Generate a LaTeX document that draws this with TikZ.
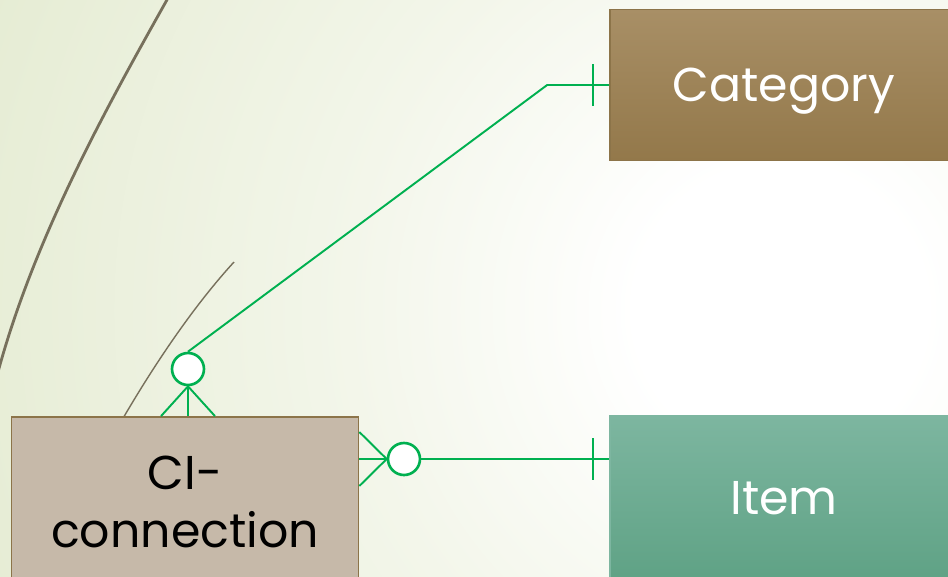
\documentclass[tikz,border=0pt]{standalone}
\usepackage{fontspec}
\setmainfont{Poppins}
\usetikzlibrary{positioning, calc}

\definecolor{bgGreen}{HTML}{E4EBD1}
\definecolor{bgMid}{HTML}{F3F6EA}
\definecolor{linkGreen}{HTML}{00B050}
\definecolor{swoosh}{HTML}{77705C}
\definecolor{catTop}{HTML}{A88F66}
\definecolor{catBot}{HTML}{93784A}
\definecolor{itemTop}{HTML}{7DB6A0}
\definecolor{itemBot}{HTML}{5FA285}
\definecolor{ciFill}{HTML}{C6B9A9}
\definecolor{boxLine}{HTML}{8C7449}

\pgfdeclareradialshading{bgglow}{\pgfpoint{0bp}{0bp}}{color(0bp)=(white); color(4bp)=(white);
  color(12bp)=(bgMid); color(25bp)=(bgGreen); color(50bp)=(bgGreen)}

\begin{document}
\begin{tikzpicture}[x=0.02cm, y=-0.02cm,
    entity/.style = {rectangle, draw = boxLine, line width = 1pt, align = center,
                     font = \fontsize{27}{33}\selectfont, inner sep = 0pt},
    link/.style = {draw = linkGreen, line width = 1.1pt},
    ring/.style = {circle, draw = linkGreen, fill = white, line width = 1.5pt,
                   minimum size = 0.64cm, inner sep = 0pt}]

\useasboundingbox (0,0) rectangle (948,576);
\clip (0,0) rectangle (948,576);

% background
\fill[bgGreen] (0,0) rectangle (948,576);
\shade[shading = bgglow] (780,310) circle (900);

% swooshes
\draw[swoosh, line width = 1.6pt] (168,-2) .. controls (112,98) and (36,232) .. (-2,372);
\draw[swoosh, line width = 0.8pt] (122,420) .. controls (150,372) and (190,310) .. (234,262);

% entities
\node[entity, top color = catTop, bottom color = catBot, text = white, text depth = 0pt,
      minimum width = 6.96cm, minimum height = 3.02cm] (cat) at (784,85) {Category};
\node[entity, draw = itemTop, top color = itemTop, bottom color = itemBot, text = white,
      minimum width = 6.96cm, minimum height = 3.3cm] (item) at (784,498) {Item};
\node[entity, fill = ciFill, text = black,
      minimum width = 6.94cm, minimum height = 3.4cm] (ciconn) at (185,502) {CI-\\connection};

% rings
\node[ring] (ringA) at (188,369) {};
\node[ring] (ringB) at (404,459) {};

% Category -- CI-connection
\draw[link] (cat.west) -- ++(-62,0) -- (ringA.north);
\draw[link] ($(cat.west)+(-16,-21)$) -- ($(cat.west)+(-16,21)$);
\draw[link] (ringA.south) -- (ringA.south |- ciconn.north);
\draw[link] (ringA.south) -- ($(ringA.south |- ciconn.north)+(-27,0)$);
\draw[link] (ringA.south) -- ($(ringA.south |- ciconn.north)+(27,0)$);

% Item -- CI-connection
\draw[link] (ringB.east) -- (ringB.east -| item.west);
\draw[link] ($(ringB.east -| item.west)+(-16,-21)$) -- ($(ringB.east -| item.west)+(-16,21)$);
\draw[link] (ringB.west) -- (ringB.west -| ciconn.east);
\draw[link] (ringB.west) -- ($(ringB.west -| ciconn.east)+(0,-27)$);
\draw[link] (ringB.west) -- ($(ringB.west -| ciconn.east)+(0,27)$);

\end{tikzpicture}
\end{document}
